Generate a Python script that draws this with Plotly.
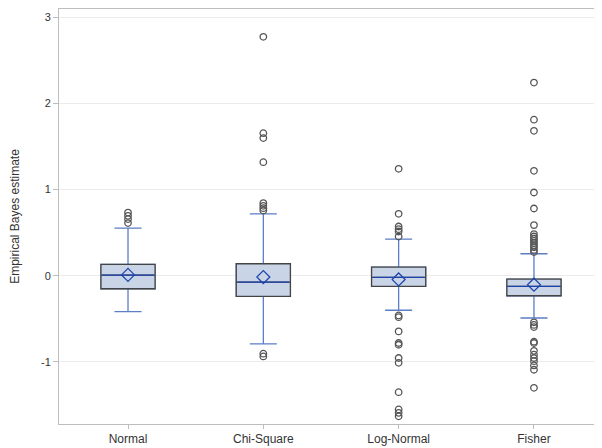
import plotly.graph_objects as go

categories = ["Normal", "Chi-Square", "Log-Normal", "Fisher"]
q1 = [-0.151, -0.24, -0.124, -0.232]
median = [0.008, -0.073, -0.02, -0.124]
q3 = [0.131, 0.139, 0.10, -0.038]
lower_fence = [-0.417, -0.79, -0.40, -0.49]
upper_fence = [0.553, 0.718, 0.425, 0.255]
means = [0.01, -0.015, -0.043, -0.104]

outliers_normal = [0.733, 0.695, 0.657, 0.611]
outliers_chisq = [2.77, 1.653, 1.596, 1.317, 0.842, 0.811, 0.784, 0.757, -0.904, -0.935]
outliers_lognormal = [1.24, 0.718, 0.571, 0.54, 0.513, 0.455, -0.46, -0.48, -0.645,
                      -0.78, -0.80, -0.954, -1.01, -1.35, -1.55, -1.59, -1.63]
outliers_fisher = [2.24, 1.81, 1.68, 1.217, 0.965, 0.78, 0.587, 0.483, 0.455, 0.43,
                   0.405, 0.38, 0.35, 0.33, 0.30, 0.275, -0.54, -0.57, -0.595,
                   -0.765, -0.78, -0.87, -0.915, -0.954, -0.99, -1.04, -1.09, -1.30]
outliers = [outliers_normal, outliers_chisq, outliers_lognormal, outliers_fisher]

y_ticks = [-1, 0, 1, 2, 3]
y_tick_labels = ["-1", "0", "1", "2", "3"]

pos = list(range(len(categories)))
BOX_W = 0.4
FILL = "#c9d5e7"
WHISK = "#5b7ec6"
MED = "#1d43ad"
OUTLINE = "#444444"
OUTC = "#555555"

fig = go.Figure()

# whiskers with caps
fig.add_trace(go.Box(
    x=pos, q1=q1, median=median, q3=q3,
    lowerfence=lower_fence, upperfence=upper_fence,
    width=BOX_W, whiskerwidth=0.5, fillcolor="rgba(0,0,0,0)",
    line=dict(color=WHISK, width=1.3), boxpoints=False, showlegend=False,
    hoverinfo="skip"))

# box body with gray outline
fig.add_trace(go.Box(
    x=pos, q1=q1, median=median, q3=q3,
    lowerfence=q1, upperfence=q3,
    width=BOX_W, whiskerwidth=0, fillcolor=FILL,
    line=dict(color=OUTLINE, width=1.3), boxpoints=False, showlegend=False,
    hoverinfo="skip"))

# median lines
mx, my = [], []
for p, m in zip(pos, median):
    mx += [p - BOX_W / 2 + 0.008, p + BOX_W / 2 - 0.008, None]
    my += [m, m, None]
fig.add_trace(go.Scatter(x=mx, y=my, mode="lines",
                         line=dict(color=MED, width=1.3), showlegend=False,
                         hoverinfo="skip"))

# mean diamonds
fig.add_trace(go.Scatter(x=pos, y=means, mode="markers",
                         marker=dict(symbol="diamond-open", size=10,
                                     color=MED, line=dict(width=1.2)),
                         showlegend=False))

# outliers
ox, oy = [], []
for p, vals in zip(pos, outliers):
    ox += [p] * len(vals)
    oy += vals
fig.add_trace(go.Scatter(x=ox, y=oy, mode="markers",
                         marker=dict(symbol="circle-open", size=6.5,
                                     color=OUTC, line=dict(width=1.3)),
                         showlegend=False))

# page body has an 8px margin, so the figure is offset by (8, 8)
fig.update_layout(
    width=620, height=440,
    margin=dict(l=51, r=0, t=1, b=24, autoexpand=False),
    paper_bgcolor="white", plot_bgcolor="white",
    boxmode="overlay",
    font=dict(family="Arial, Liberation Sans, sans-serif", color="#333333", size=11),
    showlegend=False,
)
fig.update_xaxes(
    automargin=False,
    range=[-0.51, 3.695], tickvals=pos, ticktext=categories,
    showgrid=False, zeroline=False,
    showline=True, linecolor="#bdbdbd", linewidth=1, mirror=True,
    ticks="outside", ticklen=4, tickcolor="#bdbdbd",
    tickfont=dict(size=12, color="#333333"),
)
fig.update_yaxes(
    automargin=False,
    range=[-1.719, 3.093], tickvals=y_ticks, ticktext=y_tick_labels,
    showgrid=True, gridcolor="#ebebeb", gridwidth=1, zeroline=False,
    showline=True, linecolor="#bdbdbd", linewidth=1, mirror=False,
    ticks="outside", ticklen=5, tickcolor="#bdbdbd",
    tickfont=dict(size=11, color="#333333"),
    title=dict(text="Empirical Bayes estimate", font=dict(size=12, color="#333333"),
               standoff=18),
)

fig.write_html("out.html")
